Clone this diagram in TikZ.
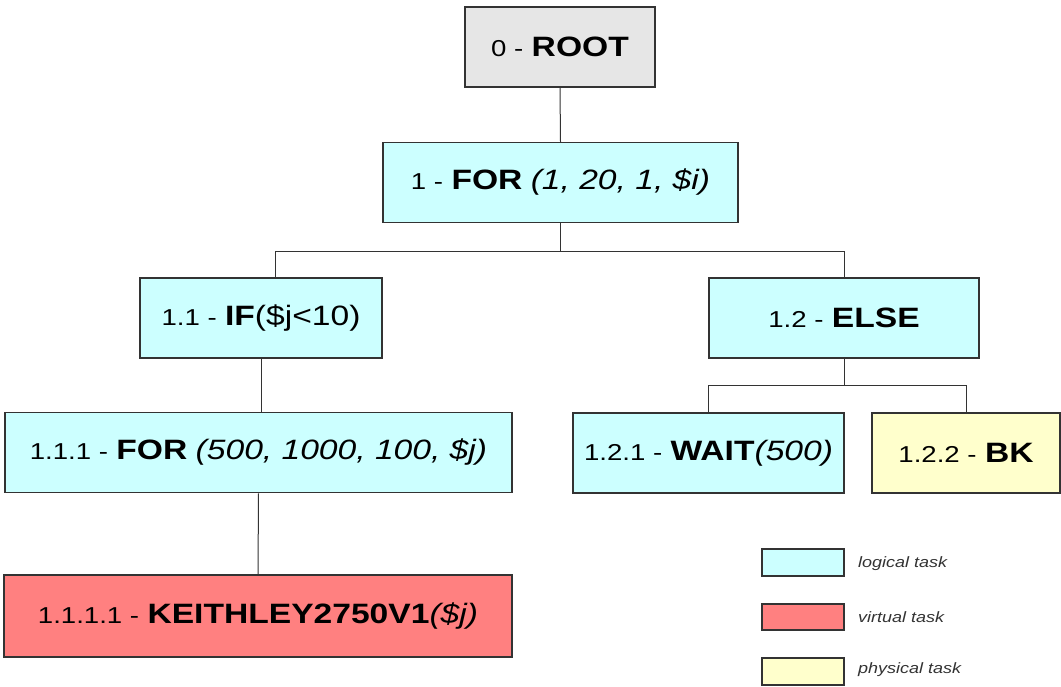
\documentclass[tikz,border=0pt]{standalone}
\usepackage{fontspec}
\setmainfont{Liberation Sans}[FakeStretch=1.2]
\definecolor{logicfill}{HTML}{CCFFFF}
\definecolor{virtfill}{HTML}{FF8080}
\definecolor{physfill}{HTML}{FFFFCC}
\definecolor{rootfill}{HTML}{E6E6E6}
\definecolor{edge}{HTML}{333333}
\newcommand{\tasknum}[1]{{\fontsize{23}{27}\selectfont #1}}
\newcommand{\taskname}[1]{{\fontsize{28}{32}\selectfont\bfseries #1}}
\newcommand{\taskarg}[1]{{\fontsize{28}{32}\selectfont\itshape #1}}
\begin{document}
\begin{tikzpicture}[x=1pt,y=-1pt,
  task/.style={draw=edge, line width=1.5pt, inner sep=0pt, minimum height=80pt, align=center,
    font=\fontsize{25}{29}\selectfont},
  logical/.style={task, fill=logicfill},
  virtual/.style={task, fill=virtfill},
  physical/.style={task, fill=physfill},
  rootbox/.style={task, fill=rootfill},
  keybox/.style={draw=edge, line width=1.5pt, inner sep=0pt, minimum width=82pt, minimum height=27pt},
  keytext/.style={anchor=west, inner sep=0pt, font=\fontsize{15}{18}\selectfont\itshape, text=black!80},
  link/.style={draw=edge, line width=1pt}
]
\useasboundingbox (0,0) rectangle (1061,686);

% task tree
\node[rootbox, minimum width=190pt] (root) at (560,47) {\tasknum{0 -} \taskname{ROOT}};
\node[logical, minimum width=355pt] (for1) at (560.5,182.5) {\tasknum{1 -} \taskname{FOR} \taskarg{(1, 20, 1, \$i)}};
\node[logical, minimum width=242pt] (if) at (261,318) {\tasknum{1.1 -} \taskname{IF}{\fontsize{28}{32}\selectfont(\$j<10)}};
\node[logical, minimum width=270pt] (else) at (844,318) {\tasknum{1.2 -} \taskname{ELSE}};
\node[logical, minimum width=507pt] (for2) at (258.5,452.5) {\tasknum{1.1.1 -} \taskname{FOR} \taskarg{(500, 1000, 100, \$j)}};
\node[logical, minimum width=271pt] (wait) at (708.5,453) {\tasknum{1.2.1 -} \taskname{WAIT}\taskarg{(500)}};
\node[physical, minimum width=188pt] (bk) at (966,453) {\tasknum{1.2.2 -} \taskname{BK}};
\node[virtual, minimum width=508pt, minimum height=82pt] (keith) at (258,616) {\tasknum{1.1.1.1 -} \taskname{KEITHLEY2750V1}\taskarg{(\$j)}};

% connectors
\draw[link] (root.south) -- (for1.north);
\draw[link] (for1.south) -- ++(0,28) coordinate (fork1);
\draw[link] ([xshift=14pt]if.north) |- (fork1) -| (else.north);
\draw[link] (if.south) -- (if.south |- for2.north);
\draw[link] (else.south) -- ++(0,27) coordinate (fork2);
\draw[link] (wait.north) |- (fork2) -| (bk.north);
\draw[link] (for2.south) -- (keith.north);

% legend
\node[keybox, fill=logicfill] (k1) at (803,562.5) {};
\node[keybox, fill=virtfill, minimum height=26pt] (k2) at (803,617) {};
\node[keybox, fill=physfill] (k3) at (803,671.5) {};
\node[keytext] (t1) at (858,564) {logical task};
\node[keytext] (t2) at (858,617) {virtual task};
\node[keytext] (t3) at (858,670) {physical task};
\end{tikzpicture}
\end{document}
